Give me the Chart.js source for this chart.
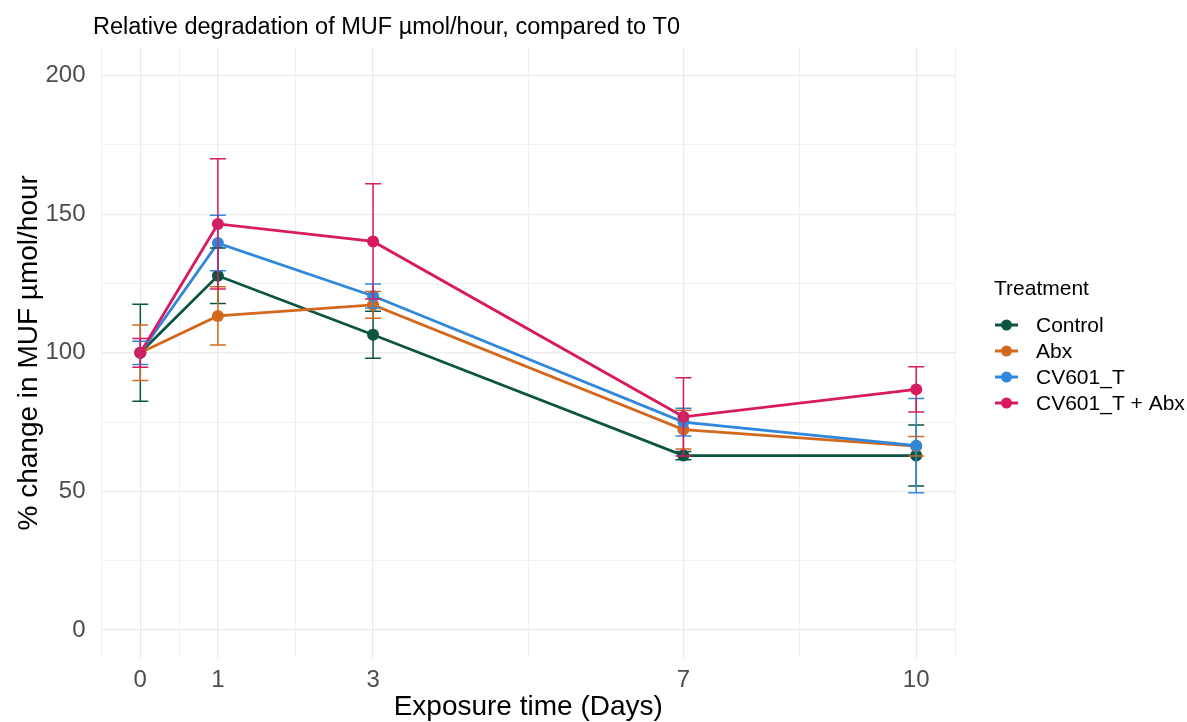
<!DOCTYPE html>
<html>
<head>
<meta charset="utf-8">
<title>MUF degradation</title>
<script src="https://cdn.jsdelivr.net/npm/chart.js@4/dist/chart.umd.min.js"></script>
<style>
  html, body { margin: 0; padding: 0; background: #fff; }
  #wrap { width: 1187px; height: 722px; }
</style>
</head>
<body>
<div id="wrap"><canvas id="mufchart" width="1187" height="722"></canvas></div>
<script>
// sampling days and mean % change (T0 = 100) with error (+/-) per treatment
const days = [0, 1, 3, 7, 10]
const dayLabels = [0, 1, 3, 7, 10]
const dayGrid = [-0.5, 0, 0.5, 1, 2, 3, 5, 7, 8.5, 10, 10.5]
const yTicks = [0, 25, 50, 75, 100, 125, 150, 175, 200]

const treatments = ['Control', 'Abx', 'CV601_T', 'CV601_T + Abx']
const colors = ['#0d5543', '#d2691e', '#3088dc', '#d81b60']

const controlMean = [100, 127.8, 106.5, 62.9, 62.9]
const controlErr = [17.5, 10, 8.5, 1.5, 11]
const abxMean = [100, 113.3, 117.3, 72.3, 66.3]
const abxErr = [10, 10.5, 4.8, 7, 3.5]
const cvMean = [100, 139.6, 120.5, 75, 66.5]
const cvErr = [4.2, 10, 4.3, 5, 17]
const cvAbxMean = [100, 146.5, 140.2, 76.9, 86.8]
const cvAbxErr = [5.2, 23.5, 20.8, 14.1, 8.2]

const means = [controlMean, abxMean, cvMean, cvAbxMean]
const errs = [controlErr, abxErr, cvErr, cvAbxErr]

const FONT = '"Liberation Sans", Arial, sans-serif'

// whiskers with caps, drawn through the chart scales
const errorBars = {
  id: 'errorBars',
  afterDatasetsDraw(chart) {
    const { ctx, scales: { x, y } } = chart
    ctx.save()
    chart.data.datasets.forEach((ds) => {
      ctx.strokeStyle = ds.borderColor
      ctx.lineWidth = 1.5
      ds.errors.forEach((e, j) => {
        const px = x.getPixelForValue(ds.data[j].x)
        const top = y.getPixelForValue(ds.data[j].y + e)
        const bot = y.getPixelForValue(ds.data[j].y - e)
        ctx.beginPath()
        ctx.moveTo(px, top); ctx.lineTo(px, bot)
        ctx.moveTo(px - 8, top); ctx.lineTo(px + 8, top)
        ctx.moveTo(px - 8, bot); ctx.lineTo(px + 8, bot)
        ctx.stroke()
      })
    })
    ctx.restore()
  }
}

// title, axis titles and the legend box on the right
const annotations = {
  id: 'annotations',
  afterDraw(chart) {
    const { ctx, chartArea } = chart
    ctx.save()
    ctx.fillStyle = '#000'
    ctx.textBaseline = 'middle'

    ctx.font = '23.5px ' + FONT
    ctx.textAlign = 'left'
    ctx.fillText('Relative degradation of MUF \u00b5mol/hour, compared to T0', 93, 28)

    ctx.font = '28px ' + FONT
    ctx.textAlign = 'center'
    ctx.fillText('Exposure time (Days)', (chartArea.left + chartArea.right) / 2, 707)

    ctx.save()
    ctx.translate(29, (chartArea.top + chartArea.bottom) / 2)
    ctx.rotate(-Math.PI / 2)
    ctx.fillText('% change in MUF \u00b5mol/hour', 0, 0)
    ctx.restore()

    ctx.textAlign = 'left'
    ctx.font = '21px ' + FONT
    ctx.fillText('Treatment', 994, 289)
    chart.data.datasets.forEach((ds, i) => {
      const cy = 325 + i * 26
      ctx.strokeStyle = ds.borderColor
      ctx.fillStyle = ds.borderColor
      ctx.lineWidth = 3
      ctx.beginPath()
      ctx.moveTo(995, cy); ctx.lineTo(1018, cy)
      ctx.stroke()
      ctx.beginPath()
      ctx.arc(1006.5, cy, 5.5, 0, Math.PI * 2)
      ctx.fill()
      ctx.fillStyle = '#000'
      ctx.font = '21px ' + FONT
      ctx.fillText(ds.label, 1036, cy + 1)
    })
    ctx.restore()
  }
}

const datasets = treatments.map((name, i) => ({
  label: name,
  data: days.map((d, j) => ({ x: d, y: means[i][j] })),
  errors: errs[i],
  borderColor: colors[i],
  backgroundColor: colors[i],
  borderWidth: 2.8,
  pointRadius: 6,
  pointBorderWidth: 0,
  pointHoverRadius: 6,
  tension: 0,
  order: treatments.length - i,
}))

const gridColor = '#ebebeb'

new Chart(document.getElementById('mufchart').getContext('2d'), {
  type: 'line',
  data: { datasets: datasets },
  options: {
    responsive: false,
    animation: false,
    devicePixelRatio: 1,
    layout: { padding: { left: 0, right: 232, top: 48, bottom: 0 } },
    plugins: {
      legend: { display: false },
      tooltip: { enabled: false },
    },
    scales: {
      x: {
        type: 'linear',
        min: -0.5,
        max: 10.5,
        afterBuildTicks: (s) => { s.ticks = dayGrid.map(v => ({ value: v })) },
        afterFit: (s) => { s.height = 722 - 657.6 },
        border: { display: false },
        grid: {
          color: gridColor,
          lineWidth: (c) => dayLabels.includes(c.tick.value) ? 1.3 : 0.7,
          drawTicks: false,
        },
        ticks: {
          autoSkip: false,
          maxRotation: 0,
          padding: 8,
          color: '#4d4d4d',
          font: { family: FONT, size: 24 },
          callback: (v) => dayLabels.includes(v) ? String(v) : '',
        },
      },
      y: {
        min: -10,
        max: 210,
        afterBuildTicks: (s) => { s.ticks = yTicks.map(v => ({ value: v })) },
        afterFit: (s) => { s.width = 101.5 },
        border: { display: false },
        grid: {
          color: gridColor,
          lineWidth: (c) => c.tick.value % 50 === 0 ? 1.3 : 0.7,
          drawTicks: false,
        },
        ticks: {
          padding: 16,
          color: '#4d4d4d',
          font: { family: FONT, size: 24 },
          callback: (v) => v % 50 === 0 ? String(v) : '',
        },
      },
    },
  },
  plugins: [errorBars, annotations],
})
</script>
</body>
</html>
